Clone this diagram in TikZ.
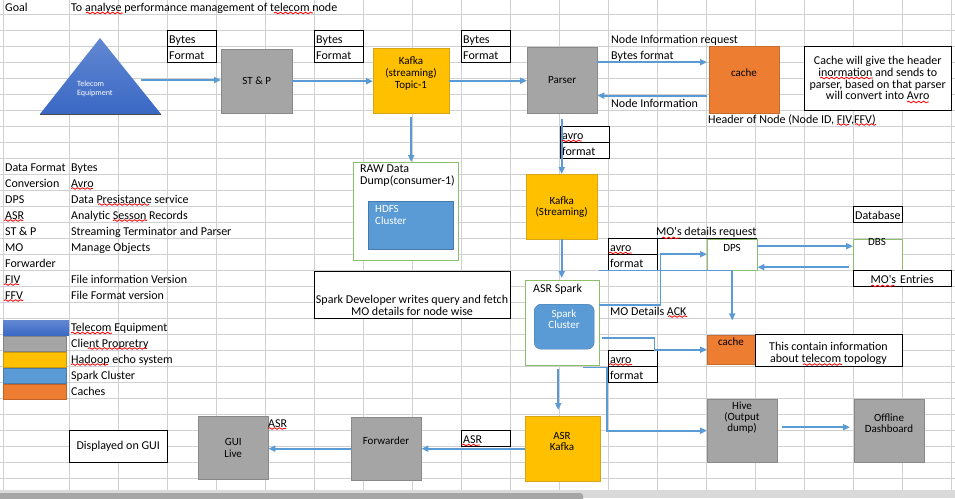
\documentclass[tikz,border=0pt]{standalone}
\usepackage{fontspec}
\setmainfont{Carlito}
\usetikzlibrary{positioning,arrows.meta,decorations.pathmorphing}

\definecolor{gridline}{RGB}{208,208,208}
\definecolor{flowblue}{RGB}{91,155,213}
\definecolor{clientgray}{RGB}{165,165,165}
\definecolor{clientedge}{RGB}{137,137,137}
\definecolor{hadoop}{RGB}{255,192,0}
\definecolor{hadoopedge}{RGB}{214,164,20}
\definecolor{cachefill}{RGB}{237,125,49}
\definecolor{cacheedge}{RGB}{196,110,50}
\definecolor{sparkfill}{RGB}{91,155,213}
\definecolor{sparkedge}{RGB}{70,120,170}
\definecolor{greenedge}{RGB}{140,191,106}
\definecolor{teletop}{RGB}{98,136,210}
\definecolor{telebot}{RGB}{58,104,196}
\definecolor{scrollband}{RGB}{218,218,218}
\definecolor{scrollthumb}{RGB}{166,166,166}

\tikzset{
  cell/.style={font=\fontsize{12}{12}\selectfont, inner sep=0pt, anchor=base west},
  cellbox/.style={draw, fill=white, anchor=north west, minimum height=16pt, text width=#1,
    inner xsep=2pt, inner ysep=0pt, text height=10pt, text depth=0pt,
    font=\fontsize{12}{12}\selectfont, align=left},
  boxtext/.style={font=\fontsize{11}{11.5}\selectfont, align=center, inner sep=0pt},
  blk/.style 2 args={anchor=north west, inner sep=0pt, minimum width=#1pt, minimum height=#2pt},
  client/.style={fill=clientgray, draw=clientedge},
  hadoopbox/.style={fill=hadoop, draw=hadoopedge},
  cachebox/.style={fill=cachefill, draw=cacheedge},
  sparkbox/.style={fill=sparkfill, draw=sparkedge},
  holder/.style={fill=white, draw=greenedge},
  note/.style={fill=white, draw=black, align=center, font=\fontsize{12}{11.7}\selectfont},
  flow/.style={draw=flowblue, line width=1.8pt, -{Triangle[length=7pt,width=6pt]}},
  spell/.style={draw=red, line width=0.8pt, decorate,
    decoration={snake, amplitude=0.8pt, segment length=5pt}},
}

\begin{document}
\begin{tikzpicture}[x=1pt,y=-1pt]
\useasboundingbox[fill=white] (0,0) rectangle (955,498);

% sheet grid
\foreach \x in {3,69,118,...,951}
  \draw[gridline, line width=0.8pt] (\x,0) -- (\x,490);
\foreach \y in {14,30,...,478}
  \draw[gridline, line width=0.8pt] (0,\y) -- (955,\y);
\fill[scrollband] (0,490) rectangle (955,498);
\fill[scrollthumb, rounded corners=3pt] (-6,493) rectangle (583,503);

% heading
\node[cell] (goal) at (5,11) {Goal};
\node[cell] (aim) at (71,11) {To analyse performance management of telecom node};

% telecom equipment
\shade[top color=teletop, bottom color=telebot] (100,38) -- (161,114) -- (40,114) -- cycle;
\draw[gray!60!black, line width=1pt] (40,114) -- (161,114);
\node[font=\fontsize{8}{8.5}\selectfont, text=white, align=left, anchor=west, inner sep=0pt]
  (tele) at (77,89) {Telecom\\Equipment};
\coordinate (tele-out) at (141,80);

% top row
\node[client, blk={71}{64}, boxtext] (stp) at (221,49) {ST \& P};
\node[hadoopbox, blk={76}{65}] (kafka1) at (373,48) {};
\node[boxtext, font=\fontsize{11}{12}\selectfont] (kafka1-t) at (411,74) {Kafka\\(streaming)\\Topic-1};
\node[client, blk={70}{66}, boxtext] (parser) at (527,47) {Parser};
\node[cachebox, blk={70}{67}] (cache1) at (709,46) {};
\node[boxtext] (cache1-t) at (744,73) {cache};
\node[note, blk={147}{64}] (cachenote) at (804,46)
  {Cache will give the header\\inormation and sends to\\parser, based on that parser\\will convert into Avro};

\node[cellbox=45pt] (bytes1) at (167,30) {Bytes};
\node[cellbox=45pt] (format1) at (167,46) {Format};
\node[cellbox=45pt] (bytes2) at (314,30) {Bytes};
\node[cellbox=45pt] (format2) at (314,46) {Format};
\node[cellbox=45pt] (bytes3) at (461,30) {Bytes};
\node[cellbox=45pt] (format3) at (461,46) {Format};

\node[cell] (inforeq) at (611,43) {Node Information request};
\node[cell] (bytesfmt) at (611,59) {Bytes format};
\node[cell] (info) at (611,107) {Node Information};
\node[cell] (header) at (708,123) {Header of Node (Node ID, FIV,FFV)};

\node[cellbox=45pt] (avro1) at (560,126) {avro};
\node[cellbox=45pt] (avrofmt1) at (560,142) {format};

% raw dump
\node[holder, blk={105}{98}] (raw) at (353,162) {};
\node[font=\fontsize{12}{12}\selectfont, align=left, anchor=west, inner sep=0pt]
  (raw-t) at (360,176) {RAW Data\\Dump(consumer-1)};
\node[sparkbox, blk={85}{48}] (hdfs) at (368,201) {};
\node[boxtext, font=\fontsize{11}{12}\selectfont, text=white, align=left, anchor=west]
  (hdfs-t) at (375,215) {HDFS\\Cluster};

% legend of terms
\foreach \k/\v [count=\i] in {Data Format/Bytes, Conversion/Avro, DPS/Data Presistance service,
    ASR/Analytic Sesson Records, ST \& P/Streaming Terminator and Parser, MO/Manage Objects,
    Forwarder/{}, FIV/File information Version, FFV/File Format version}{
  \node[cell] (key-\i) at (5,155+16*\i) {\k};
  \node[cell] (val-\i) at (71,155+16*\i) {\v};
}

% legend of colours
\node[blk={66}{15}, top color=teletop, bottom color=telebot] (sw-1) at (3,320) {};
\foreach \c [count=\i from 2] in {clientgray, hadoop, sparkfill, cachefill}
  \node[blk={63}{15}, fill=\c, draw=\c!80!black, line width=0.8pt] (sw-\i) at (3,304+16*\i) {};
\foreach \t [count=\i] in {Telecom Equipment, Client Propretry, Hadoop echo system, Spark Cluster, Caches}
  \node[cell] (lg-\i) at (71,315+16*\i) {\t};

% spark stage
\node[hadoopbox, blk={71}{65}, boxtext, font=\fontsize{11}{11}\selectfont] (kafka2) at (526,174) {Kafka\\(Streaming)};
\node[note, blk={196}{47}] (devnote) at (314,271) {};
\node[font=\fontsize{12}{12}\selectfont, align=center, inner sep=0pt]
  (devnote-t) at (412,305) {Spark Developer writes query and fetch\\MO details for node wise};
\node[holder, blk={74}{85}] (asrspark) at (525,280) {};
\node[cell] (asrspark-t) at (533,292) {ASR Spark};
\node[sparkbox, blk={60}{45}, rounded corners=7pt] (spcluster) at (534,304) {};
\node[boxtext, font=\fontsize{11}{11}\selectfont, text=white] (spcluster-t) at (564,319.5) {Spark\\Cluster};

% DPS and database
\node[cell] (moreq) at (656,235) {MO\textquotesingle s details request};
\node[cellbox=45pt] (avro2) at (608,238) {avro};
\node[cellbox=45pt] (avrofmt2) at (608,254) {format};
\node[holder, blk={50}{31}] (dps) at (707,239) {};
\node[boxtext] (dps-t) at (732,248) {DPS};
\draw[line width=0.8pt] (avro2.north east) -- (avro2.north east -| dps.north east);
\node[cellbox=45pt] (database) at (853,206) {Database};
\node[holder, blk={49}{31}] (dbs) at (853,239) {};
\node[boxtext] (dbs-t) at (877,242) {DBS};
\node[cellbox=94pt, align=center] (moentries) at (853,270) {MO\textquotesingle s Entries};
\node[cell] (moack) at (610,315) {MO Details ACK};
\coordinate (dps-drop) at ([yshift=-50pt]dps.south);

% topology cache
\node[cachebox, blk={48}{29}] (cache2) at (707,335) {};
\node[boxtext] (cache2-t) at (731,342) {cache};
\node[note, blk={147}{32}] (topo) at (755,334) {};
\node[font=\fontsize{12}{12}\selectfont, align=center, inner sep=0pt]
  (topo-t) at (828.5,353) {This contain information\\about telecom topology};
\node[cellbox=45pt] (avro3) at (608,350) {avro};
\node[cellbox=45pt] (avrofmt3) at (608,366) {format};

% outputs
\node[client, blk={70}{63}] (hive) at (707,399) {};
\node[boxtext, font=\fontsize{11}{11}\selectfont] (hive-t) at (742,418) {Hive\\(Output\\dump)};
\node[client, blk={70}{63}] (offline) at (854,399) {};
\node[boxtext, font=\fontsize{11}{11}\selectfont] (offline-t) at (889,423.5) {Offline\\Dashboard};
\node[hadoopbox, blk={75}{65}] (asrkafka) at (525,416) {};
\node[boxtext, font=\fontsize{11}{11}\selectfont] (asrkafka-t) at (562,441.5) {ASR\\Kafka};
\node[cellbox=45pt] (asrbox) at (461,430) {ASR};
\node[client, blk={70}{63}] (fwd) at (351,417) {};
\node[boxtext] (fwd-t) at (386,441) {Forwarder};
\node[client, blk={70}{63}, boxtext, font=\fontsize{11}{12}\selectfont] (gui) at (198,416) {GUI\\Live};
\node[cell] (asrlbl) at (268,427) {ASR};
\node[note, blk={98}{32}] (guinote) at (69,430) {Displayed on GUI};

% connectors
\draw[flow] (tele-out) -- (tele-out -| stp.west);
\draw[flow] (stp.east) -- (stp.east -| kafka1.west);
\draw[flow] (kafka1.east) -- (kafka1.east -| parser.west);
\draw[flow, shorten <=4pt] (kafka1.south) -- (kafka1.south |- raw.north);
\draw[flow, shorten >=2pt] ([yshift=18pt]parser.east) -- ([yshift=18pt]parser.east -| cache1.west);
\draw[flow, shorten <=2pt] ([yshift=-16pt]cache1.west) -- ([yshift=-16pt]cache1.west -| parser.east);
\draw[flow, shorten <=6pt] (parser.south -| kafka2.north) -- (kafka2.north);
\draw[flow, shorten >=2pt] (kafka2.south) -- (kafka2.south |- asrspark.north);
\draw[flow] ([yshift=17.5pt]asrspark.east) -- ++(61,0) |- ([yshift=0.5pt]dps.west);
\draw[flow] (asrspark.east |- dps.south) -| (dps-drop);
\draw[flow] ([yshift=8.5pt]dps.east) -- ([yshift=8.5pt]dps.east -| dbs.west);
\draw[flow, shorten <=4pt] ([yshift=-12.5pt]dbs.west) -- ([yshift=-12.5pt]dbs.west -| dps.east);
\draw[flow] ([xshift=3pt,yshift=-15.5pt]asrspark.east) -- ++(52,0) |- (cache2.west);
\draw[flow] ([xshift=21pt,yshift=-2pt]asrspark.south) -- ++(24,0) |- (hive.west);
\draw[flow, shorten <=4pt, shorten >=6pt] ([xshift=-4pt]asrspark.south) -- ([xshift=-4pt]asrspark.south |- asrkafka.north);
\draw[flow, shorten <=5pt, shorten >=4pt] ([yshift=3.5pt]hive.east) -- ([yshift=3.5pt]hive.east -| offline.west);
\draw[flow] (asrkafka.west) -- (asrkafka.west -| fwd.east);
\draw[flow] (fwd.west) -- (fwd.west -| gui.east);

% spell check marks
\foreach \xa/\xb/\yy in {86/123/13, 274/313/13, 820/873/78, 907/929/102, 837/849/124.5,
    855/876/124.5, 562/582/141, 71/93/188.5, 98/149/204.5, 4/23/220.5, 113/147/220.5,
    4/19/284.5, 4/23/300.5, 71/112/333, 88/147/348.5, 71/108/364.5, 268/286/428.5,
    462/480/445, 662/680/238, 871/895/286, 668/687/316.5, 609/632/253, 609/632/364.5,
    803/842/364.5}
  \draw[spell] (\xa,\yy) -- (\xb,\yy);
\end{tikzpicture}
\end{document}
